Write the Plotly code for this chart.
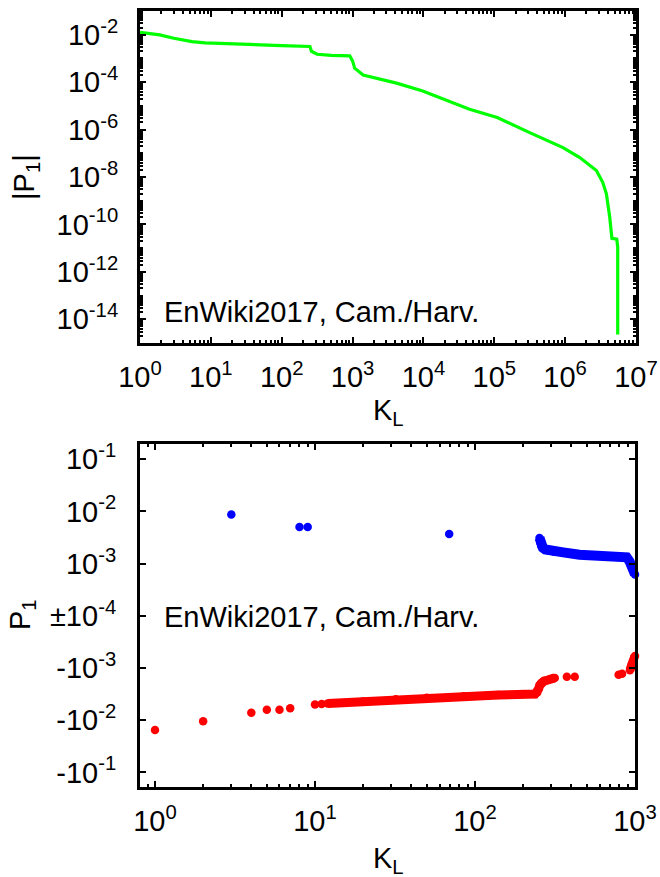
import numpy as np
import plotly.graph_objects as go

# ---------------- data ----------------
# top panel: |P1| versus K_L
k_top = [1, 1.9, 3, 5.4, 8.3, 25, 100, 250, 263, 316, 500, 912, 1000, 1070, 1410,
         4170, 9770, 44700, 110000, 316000, 933000, 1610000, 2760000, 3390000,
         3820000, 4260000, 4470000, 4570000, 5350000, 5520000, 5520000]
p_top = [1.26e-2, 9.8e-3, 7.1e-3, 5.1e-3, 4.5e-3, 3.9e-3, 3.5e-3, 3.2e-3, 2.0e-3,
         1.5e-3, 1.35e-3, 1.29e-3, 7.9e-4, 3.9e-4, 2.0e-4, 9.1e-5, 4.2e-5, 7.2e-6,
         3.2e-6, 7.4e-7, 1.74e-7, 6.6e-8, 1.86e-8, 6.0e-9, 1.95e-9, 2.0e-10,
         5.8e-11, 2.6e-11, 2.4e-11, 1.1e-11, 2.3e-15]

# bottom panel: positive P1 values (blue); None separates isolated points / runs
k_pos = [3, None, 8, None, 9, None, 69, None,
         253, 256, 260, 266, 275, 290, 310, 356, 450, 575, 700, 887, 925, 960, 1000]
p_pos = [8.7e-3, None, 5.0e-3, None, 5.0e-3, None, 3.7e-3, None,
         3.1e-3, 2.5e-3, 2.14e-3, 2.0e-3, 1.86e-3, 1.78e-3, 1.70e-3, 1.64e-3,
         1.48e-3, 1.41e-3, 1.37e-3, 1.32e-3, 1.1e-3, 8.0e-4, 6.2e-4]

# bottom panel: negative P1 values (red)
k_neg = [1, None, 2, None, 4, None, 5, None, 6, None, 7, None, 10, None, 11, None,
         12, 20, 32, 50, 85, 140, 237, 245, 250, 254, 260, 270, 285, 300, 315, None,
         375, None, 420, None, 790, None, 830, None, 930, 950, 970, 990, 1000]
p_neg = [-1.55e-2, None, -1.05e-2, None, -7.2e-3, None, -6.3e-3, None, -6.3e-3, None,
         -5.9e-3, None, -5.0e-3, None, -4.9e-3, None,
         -4.79e-3, -4.37e-3, -3.98e-3, -3.72e-3, -3.47e-3, -3.31e-3, -3.16e-3,
         -2.95e-3, -2.51e-3, -2.14e-3, -1.91e-3, -1.78e-3, -1.70e-3, -1.62e-3,
         -1.55e-3, None, -1.48e-3, None, -1.48e-3, None, -1.35e-3, None, -1.29e-3,
         None, -1.10e-3, -8.9e-4, -7.4e-4, -6.3e-4, -5.9e-4]

top_ytick_vals = [1e-2, 1e-4, 1e-6, 1e-8, 1e-10, 1e-12, 1e-14]
top_ytick_text = ["10<sup>-2</sup>", "10<sup>-4</sup>", "10<sup>-6</sup>", "10<sup>-8</sup>",
                  "10<sup>-10</sup>", "10<sup>-12</sup>", "10<sup>-14</sup>"]
top_xtick_vals = [1, 10, 100, 1e3, 1e4, 1e5, 1e6, 1e7]
top_xtick_text = ["10<sup>%d</sup>" % i for i in range(8)]
bot_xtick_vals = [1, 10, 100, 1000]
bot_xtick_text = ["10<sup>%d</sup>" % i for i in range(4)]
bot_ytick_vals = [3, 2, 1, 0, -1, -2, -3]
bot_ytick_text = ["10<sup>-1</sup>", "10<sup>-2</sup>", "10<sup>-3</sup>", "±10<sup>-4</sup>",
                  "-10<sup>-3</sup>", "-10<sup>-2</sup>", "-10<sup>-1</sup>"]


def symlog(p):
    out = []
    for v in p:
        if v is None:
            out.append(None)
        else:
            out.append(float(np.sign(v) * (np.log10(abs(v)) + 4)))
    return out


W, H = 660, 877
FONT = "Liberation Sans, Arial, Helvetica, sans-serif"
FS = 29

fig = go.Figure()
fig.add_trace(go.Scatter(x=k_top, y=p_top, mode="lines",
                         line=dict(color="#00ff00", width=3.2),
                         xaxis="x", yaxis="y", showlegend=False))
fig.add_trace(go.Scatter(x=k_pos, y=symlog(p_pos), mode="lines+markers",
                         connectgaps=False,
                         line=dict(color="#0000ff", width=10),
                         marker=dict(color="#0000ff", size=8.5, line=dict(width=0)),
                         cliponaxis=False, xaxis="x2", yaxis="y2", showlegend=False))
fig.add_trace(go.Scatter(x=k_neg, y=symlog(p_neg), mode="lines+markers",
                         connectgaps=False,
                         line=dict(color="#ff0000", width=9),
                         marker=dict(color="#ff0000", size=8.5, line=dict(width=0)),
                         cliponaxis=False, xaxis="x2", yaxis="y2", showlegend=False))

axis_common = dict(showline=True, linecolor="black", linewidth=3, mirror="allticks",
                   ticks="inside", tickcolor="black", tickwidth=1.5, ticklen=6,
                   showgrid=False, zeroline=False, automargin=False,
                   tickfont=dict(family=FONT, size=FS, color="black"))

fig.update_layout(
    width=W, height=H,
    margin=dict(l=0, r=0, t=0, b=0),
    paper_bgcolor="white", plot_bgcolor="white",
    font=dict(family=FONT, size=FS, color="black"),
    xaxis=dict(axis_common, type="log", range=[0, 7],
               domain=[140 / W, 636 / W], anchor="y",
               tickvals=top_xtick_vals, ticktext=top_xtick_text,
               ticklabelstandoff=6,
               minor=dict(ticks="inside", ticklen=3, tickcolor="black", dtick="D1")),
    yaxis=dict(axis_common, type="log", range=[-15, -1],
               domain=[1 - 343 / H, 1 - 11 / H], anchor="x",
               tickvals=top_ytick_vals, ticktext=top_ytick_text,
               ticklabelstandoff=13,
               minor=dict(ticks="inside", ticklen=3, tickcolor="black", dtick="D1")),
    xaxis2=dict(axis_common, type="log", range=[np.log10(0.806), 3],
                domain=[140 / W, 635 / W], anchor="y2",
                tickvals=bot_xtick_vals, ticktext=bot_xtick_text,
                ticklabelstandoff=6,
                minor=dict(ticks="inside", ticklen=3, tickcolor="black", dtick="D1")),
    yaxis2=dict(axis_common, type="linear", range=[-3.28, 3.29],
                domain=[1 - 787 / H, 1 - 444 / H], anchor="x2",
                tickvals=bot_ytick_vals, ticktext=bot_ytick_text,
                ticklabelstandoff=15),
)

ann_font = dict(family=FONT, size=FS, color="black")
fig.add_annotation(text="EnWiki2017, Cam./Harv.", xref="paper", yref="paper",
                   x=162 / W, y=1 - 312 / H, xanchor="left", yanchor="middle",
                   showarrow=False, font=ann_font)
fig.add_annotation(text="EnWiki2017, Cam./Harv.", xref="paper", yref="paper",
                   x=162 / W, y=1 - 617 / H, xanchor="left", yanchor="middle",
                   showarrow=False, font=ann_font)
fig.add_annotation(text="|P<sub>1</sub>|", xref="paper", yref="paper",
                   x=26 / W, y=1 - 177 / H, xanchor="center", yanchor="middle",
                   textangle=-90, showarrow=False, font=ann_font)
fig.add_annotation(text="P<sub>1</sub>", xref="paper", yref="paper",
                   x=22 / W, y=1 - 615 / H, xanchor="center", yanchor="middle",
                   textangle=-90, showarrow=False, font=ann_font)
fig.add_annotation(text="K<sub>L</sub>", xref="paper", yref="paper",
                   x=388 / W, y=1 - 412 / H, xanchor="center", yanchor="middle",
                   showarrow=False, font=ann_font)
fig.add_annotation(text="K<sub>L</sub>", xref="paper", yref="paper",
                   x=388 / W, y=1 - 860 / H, xanchor="center", yanchor="middle",
                   showarrow=False, font=ann_font)

fig.write_html("out.html", config={"displayModeBar": False},
               post_script="document.body.style.margin='0';document.body.style.overflow='hidden';")
